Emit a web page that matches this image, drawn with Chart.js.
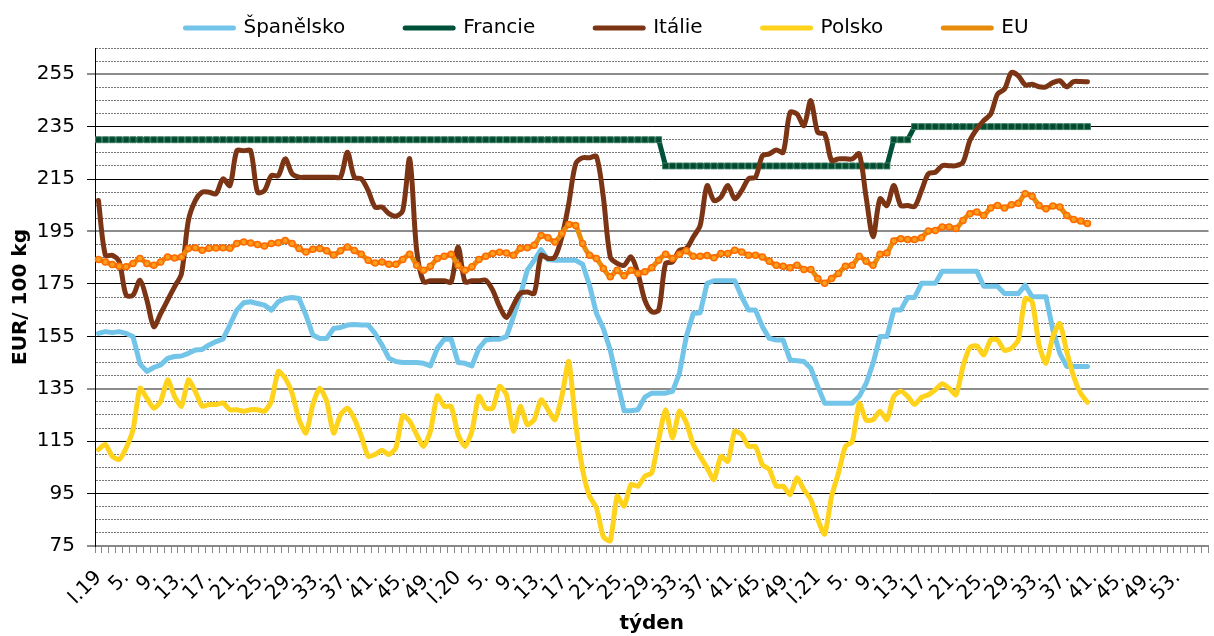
<!DOCTYPE html>
<html>
<head>
<meta charset="utf-8">
<script src="https://cdn.jsdelivr.net/npm/chart.js@4.4.0/dist/chart.umd.min.js"></script>
<style>
  html, body { margin: 0; padding: 0; background: #fff; }
</style>
</head>
<body>
<canvas id="priceChart" width="1214" height="636"></canvas>
<script>
// weeks per year on the category axis (2019, 2020, 2021) + a few empty slots at the end
const yearWeeks = [52, 52, 53];
const yearTags = ["19", "20", "21"];
const spareSlots = 4;

const yTickLabels = [75, 95, 115, 135, 155, 175, 195, 215, 235, 255];

// EUR/100 kg, weekly, from week 1/2019
const spain = [
  156.1, 156.8, 156.4, 156.8, 156.1, 154.9, 144.5, 141.6, 143.1, 144.1,
  146.6, 147.3, 147.5, 148.5, 149.8, 150, 151.7, 153, 153.9, 159.3,
  165, 167.8, 168.2, 167.5, 166.9, 165, 168.2, 169.4, 169.8, 169.4,
  163.1, 155.5, 154.2, 154.2, 158, 158.4, 159.3, 159.5, 159.3, 159.3,
  156.1, 151.7, 146.6, 145.4, 145, 145, 145, 144.7, 143.7, 150.4,
  153.9, 153.9, 145, 144.7, 143.7, 150.4, 153.6, 153.9, 153.9, 154.9,
  162.5, 170.7, 180.2, 184, 188.1, 184.3, 184, 184, 184, 184,
  182.5, 174.5, 163.7, 158, 149.8, 138, 126.6, 126.6, 127, 131.8,
  133.3, 133.3, 133.3, 134, 140.9, 154.9, 163.7, 164, 175.2, 176.2,
  176.2, 176.2, 176.2, 170.1, 165, 165, 158.7, 154.2, 153.6, 153.6,
  146, 145.7, 145.4, 142.8, 135.9, 129.5, 129.5, 129.5, 129.5, 129.5,
  132.1, 137, 144.7, 154.9, 154.9, 165, 165, 169.8, 169.8, 175.2,
  175.2, 175.2, 179.8, 179.8, 179.8, 179.8, 179.8, 179.8, 174.1, 174.1,
  174.1, 171.3, 171.3, 171.3, 174.5, 170.1, 170.1, 170.1, 157.4, 148.5,
  143.5, 143.5, 143.5, 143.5
];

const france = [
  230, 230, 230, 230, 230, 230, 230, 230, 230, 230,
  230, 230, 230, 230, 230, 230, 230, 230, 230, 230,
  230, 230, 230, 230, 230, 230, 230, 230, 230, 230,
  230, 230, 230, 230, 230, 230, 230, 230, 230, 230,
  230, 230, 230, 230, 230, 230, 230, 230, 230, 230,
  230, 230, 230, 230, 230, 230, 230, 230, 230, 230,
  230, 230, 230, 230, 230, 230, 230, 230, 230, 230,
  230, 230, 230, 230, 230, 230, 230, 230, 230, 230,
  230, 230, 220, 220, 220, 220, 220, 220, 220, 220,
  220, 220, 220, 220, 220, 220, 220, 220, 220, 220,
  220, 220, 220, 220, 220, 220, 220, 220, 220, 220,
  220, 220, 220, 220, 220, 230, 230, 230, 235, 235,
  235, 235, 235, 235, 235, 235, 235, 235, 235, 235,
  235, 235, 235, 235, 235, 235, 235, 235, 235, 235,
  235, 235, 235, 235
];

const italy = [
  206.8, 185.9, 185.9, 183.4, 170.7, 170.7, 176.4, 168.8, 158.7, 163.7,
  168.8, 173.9, 178.9, 199.2, 206.8, 210, 210, 209.4, 215.1, 212.5,
  225.8, 225.8, 225.8, 210, 210.6, 216.3, 216.3, 222.7, 217, 215.7,
  215.7, 215.7, 215.7, 215.7, 215.7, 215.7, 225.2, 215.7, 215.1, 210.6,
  204.3, 204.3, 201.8, 200.8, 203, 222.7, 188, 175.8, 176.2, 176.2,
  176.2, 175.7, 189.1, 175.8, 176.2, 176.2, 176.4, 172.6, 166.3, 162.2,
  166.9, 171.4, 171.9, 171.4, 185.9, 184.7, 185.3, 192.9, 205.6, 220.8,
  223.1, 223.1, 223.6, 208.1, 185.3, 182.8, 182.1, 185.3, 179, 168.8,
  164.4, 165, 182.8, 183.4, 187.8, 188.5, 192.9, 197.3, 212.5, 206.8,
  208.1, 212.5, 207.5, 210.6, 215.1, 215.7, 223.9, 224.6, 226.1, 225.2,
  240.4, 239.8, 235.4, 244.9, 232.8, 232.2, 222.1, 222.7, 222.7, 222.7,
  224.6, 208, 193, 207.5, 204.9, 212.5, 204.9, 204.9, 204.5, 210.6,
  217, 217.6, 220.1, 220.1, 220.1, 221.4, 229.7, 234.1, 237.3, 239.8,
  247.4, 249.3, 255.6, 254.4, 250.9, 251.2, 250.2, 250.2, 251.8, 252.5,
  250.2, 252.2, 252.2, 252.1
];

const poland = [
  111.8, 113.7, 109.2, 108, 112.4, 119.4, 135.2, 131.4, 127.6, 130.2,
  138.4, 132.1, 128.3, 138.4, 134, 128.3, 129, 129, 129.6, 127,
  127, 126.4, 127, 127, 126.4, 130.2, 141.6, 139, 133.3, 123.2,
  118.1, 129, 135.2, 130.2, 118.1, 125.1, 127.6, 123.5, 116.9, 109.2,
  109.9, 111.5, 109.9, 112.4, 124.7, 122.6, 117.5, 113, 118.8, 132.3,
  128.3, 128.3, 117.5, 113, 118.8, 132.1, 127.6, 127.6, 135.9, 132.7,
  118.8, 128.3, 121.3, 123.2, 130.8, 127, 123.2, 132.1, 145.4, 121.7,
  104.2, 94, 89.6, 78.5, 77, 94, 90.2, 98.5, 97.8, 101.6,
  102.9, 115.6, 127, 116.2, 126.4, 122, 113.7, 109.2, 104.8, 100.3,
  109.2, 107.3, 118.8, 117.5, 113, 113, 106, 104.2, 97.8, 97.8,
  94.6, 101, 96.5, 92.7, 85.2, 79.5, 94, 102.9, 113, 114.9,
  129.5, 123, 123.2, 126.4, 123.2, 132.1, 134, 132.1, 129, 131.7,
  132.7, 134.6, 136.9, 135.2, 132.7, 143.5, 150.8, 151.3, 147.9, 153.6,
  153.6, 149.6, 150.4, 153.6, 169.4, 168.2, 151.7, 144.7, 154.9, 159.9,
  149.2, 139.7, 133.3, 129.8
];

const eu = [
  184.3, 183.4, 182.4, 181.7, 181.5, 182.8, 184.7, 182.8, 182.1, 183.4,
  185.3, 184.9, 185.3, 188.5, 188.8, 187.8, 188.6, 188.7, 188.8, 188.6,
  190.4, 191, 190.6, 190, 189.5, 190.4, 190.7, 191.6, 190.4, 188.5,
  187.2, 188.2, 188.5, 187.6, 186, 187.6, 189.1, 187.7, 186.3, 184,
  183, 183.4, 182.5, 182.5, 184.3, 186.3, 182.1, 180.2, 181.7, 184.7,
  185.5, 186.3, 182.1, 180.2, 181.5, 184.3, 185.5, 186.6, 187.1, 186.8,
  185.9, 188.6, 188.8, 189.7, 193.5, 192.6, 191, 194.2, 197.7, 197.3,
  190.4, 185.9, 184.7, 180.9, 177.7, 180.2, 178.1, 180.2, 179, 179.6,
  181.2, 184, 186.3, 184.7, 186.3, 187.6, 185.5, 185.5, 185.8, 185,
  186.6, 186.6, 187.8, 187.2, 185.9, 185.9, 185.3, 183.6, 182.1, 181.7,
  181.2, 182.1, 180.5, 180.5, 177.1, 175.2, 177.1, 179, 181.7, 182.1,
  185.5, 183.6, 182.1, 186.3, 186.8, 191.4, 192.2, 191.9, 191.9, 192.6,
  195.2, 195.4, 196.7, 196.7, 196.1, 199.2, 201.8, 202.4, 201.1, 204,
  204.9, 204, 205.2, 205.8, 209.4, 208.4, 204.9, 203.7, 204.7, 204.3,
  201.1, 199.6, 199, 198
];

// "I.19", "2.", ... "53." plus empty slots
const weekLabels = [];
yearWeeks.forEach((count, y) => {
  for (let w = 1; w <= count; w++) {
    weekLabels.push(w === 1 ? "I." + yearTags[y] : w + ".");
  }
});
for (let k = 0; k < spareSlots; k++) weekLabels.push("");

const isMajor = (v) => yTickLabels.includes(v);
// every third major line came out grey and heavier in the original
const isGreyMajor = (v) => isMajor(v) && (v - yTickLabels[0]) % 60 === 0;

Chart.defaults.font.family = "'DejaVu Sans', Verdana, sans-serif";
Chart.defaults.font.size = 20;
Chart.defaults.color = "#000";

const lineBase = {
  borderWidth: 5,
  pointRadius: 0,
  borderCapStyle: "round",
  borderJoinStyle: "round",
  fill: false,
};

const config = {
  type: "line",
  data: {
    labels: weekLabels,
    datasets: [
      { ...lineBase, label: "Španělsko", data: spain, borderColor: "#72C4E8", backgroundColor: "#72C4E8", tension: 0, order: 4 },
      {
        ...lineBase, label: "Francie", data: france, borderColor: "#00513A", backgroundColor: "#00513A",
        pointStyle: "rect", pointRadius: 4.2, pointBackgroundColor: "#004A30", pointBorderColor: "#3C7D62",
        pointBorderWidth: 1, tension: 0, order: 3,
      },
      { ...lineBase, label: "Itálie", data: italy, borderColor: "#7B3414", backgroundColor: "#7B3414", tension: 0.3, order: 2 },
      { ...lineBase, label: "Polsko", data: poland, borderColor: "#FFD21C", backgroundColor: "#FFD21C", tension: 0.2, order: 1 },
      {
        ...lineBase, label: "EU", data: eu, borderColor: "#E88C0C", backgroundColor: "#E88C0C",
        pointRadius: 3, pointBackgroundColor: "#F7A01E", pointBorderColor: "#FF6A00", pointBorderWidth: 1.5,
        tension: 0.2, order: 0,
      },
    ],
  },
  options: {
    responsive: false,
    animation: false,
    layout: { padding: { top: -42, left: 0, right: 0, bottom: 0 } },
    plugins: {
      tooltip: { enabled: false },
      legend: {
        position: "top",
        labels: {
          usePointStyle: true,
          pointStyle: "line",
          pointStyleWidth: 48,
          padding: 60,
          font: { size: 20 },
          sort: (a, b) => a.datasetIndex - b.datasetIndex,
          generateLabels(chart) {
            const items = Chart.defaults.plugins.legend.labels.generateLabels(chart);
            items.forEach((item) => {
              const ds = chart.data.datasets[item.datasetIndex];
              item.lineWidth = ds.borderWidth;
              item.strokeStyle = ds.borderColor;
              item.lineCap = "round";
            });
            return items;
          },
        },
      },
    },
    scales: {
      x: {
        offset: true,
        grid: { display: true, drawOnChartArea: false, offset: true, color: "#888", tickLength: 7 },
        border: { color: "#888", width: 2 },
        ticks: {
          autoSkip: false,
          minRotation: 45,
          maxRotation: 45,
          padding: 13,
          font: { size: 20 },
          callback: function (value, index) {
            return index % 4 === 0 ? this.getLabelForValue(value) : "";
          },
        },
        title: { display: true, text: "týden", font: { size: 20, weight: "bold" }, padding: 0 },
        afterFit(scale) {
          scale.height = 90;
          scale.paddingLeft = 0;
          scale.paddingRight = 0;
        },
      },
      y: {
        min: 75,
        max: 265,
        grid: {
          color: (ctx) => (isGreyMajor(ctx.tick.value) ? "#8c8c8c" : isMajor(ctx.tick.value) ? "#000" : "#777"),
          lineWidth: (ctx) => (isGreyMajor(ctx.tick.value) ? 2 : 1),
          tickColor: (ctx) => (isMajor(ctx.tick.value) ? (isGreyMajor(ctx.tick.value) ? "#8c8c8c" : "#000") : "rgba(0,0,0,0)"),
          tickLength: 8,
        },
        border: {
          color: "#000",
          width: 1,
          dash: (ctx) => (ctx.type === "tick" && !isMajor(ctx.tick.value) ? [2, 1] : []),
        },
        ticks: {
          stepSize: 5,
          autoSkip: false,
          padding: 12,
          font: { size: 20 },
          callback: (value) => (isMajor(value) ? value : ""),
        },
        title: { display: true, text: "EUR/ 100 kg", font: { size: 20, weight: "bold" }, padding: { top: 9 } },
        afterFit(scale) {
          scale.width = 95;
          scale.paddingTop = 0;
          scale.paddingBottom = 0;
        },
      },
    },
  },
};

const priceChart = new Chart(document.getElementById("priceChart"), config);
</script>
</body>
</html>
